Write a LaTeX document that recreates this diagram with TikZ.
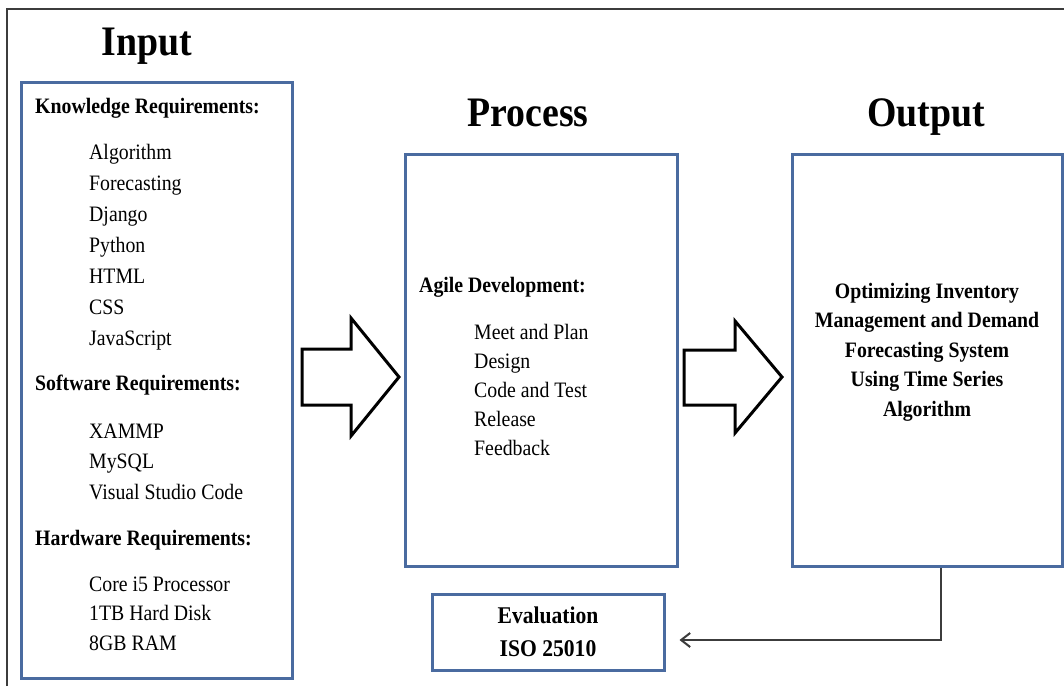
\documentclass[tikz,border=0pt]{standalone}
\usepackage{fontspec}
\setmainfont{Liberation Serif}[FakeStretch=0.9]
\usetikzlibrary{arrows.meta}
\definecolor{boxblue}{RGB}{74,107,160}
\definecolor{framegray}{RGB}{60,60,60}

\begin{document}
\begin{tikzpicture}[x=1pt, y=-1pt,
        % Define styles for boxes, texts and arrows
        box/.style={draw=boxblue, line width=3pt, inner sep=0pt},
        item/.style={anchor=base west, inner sep=0pt, font=\fontsize{22}{26}\selectfont},
        heading/.style={item, font=\fontsize{22}{26}\selectfont\bfseries},
        title/.style={anchor=base, inner sep=0pt, font=\fontsize{42}{46}\selectfont\bfseries},
        blockarrow/.style={draw=black, fill=white, line width=3pt, line join=miter},
        feedback/.style={draw=framegray, line width=2pt, -{Straight Barb[length=9pt, width=14pt, line width=2pt]}}]

        \useasboundingbox (0,0) rectangle (1064,686);

        % 1. Outer frame (only top and left edges are visible)
        \draw[framegray, line width=1.5pt] (7,686) -- (7,9) -- (1064,9);

        % 2. The four boxes
        \node[box, minimum width=271pt, minimum height=596pt] (input) at (156.5,380) {};
        \node[box, minimum width=272pt, minimum height=412pt] (process) at (541,360) {};
        \node[box, minimum width=270pt, minimum height=412pt] (output) at (927,360) {};
        \node[box, minimum width=232pt, minimum height=76pt, align=center,
              font=\fontsize{24}{33}\selectfont\bfseries] (eval) at (548,632) {Evaluation\\ISO 25010};

        % 3. Titles
        \node[title] (inputtitle) at (147,55) {Input};
        \node[title] (processtitle) at (528,126) {Process};
        \node[title] (outputtitle) at (926,126) {Output};

        % 4. Input box contents
        \node[heading] (knowhead) at (35,113) {Knowledge Requirements:};
        \foreach \t [count=\i from 0] in {Algorithm, Forecasting, Django, Python, HTML, CSS, JavaScript}
            \node[item] (know\i) at (89,159+31*\i) {\t};
        \node[heading] (softhead) at (35,390) {Software Requirements:};
        \foreach \t [count=\i from 0] in {XAMMP, MySQL, Visual Studio Code}
            \node[item] (soft\i) at (89,438+30.5*\i) {\t};
        \node[heading] (hardhead) at (35,545) {Hardware Requirements:};
        \foreach \t [count=\i from 0] in {Core i5 Processor, 1TB Hard Disk, 8GB RAM}
            \node[item] (hard\i) at (89,591+29.5*\i) {\t};

        % 5. Process box contents
        \node[heading] (agilehead) at (419,292) {Agile Development:};
        \foreach \t [count=\i from 0] in {Meet and Plan, Design, Code and Test, Release, Feedback}
            \node[item] (agile\i) at (474,339+29*\i) {\t};

        % 6. Output box contents
        \node[align=center, inner sep=0pt, font=\fontsize{22}{29.5}\selectfont\bfseries] (outtext) at (927,352)
            {Optimizing Inventory\\Management and Demand\\Forecasting System\\Using Time Series\\Algorithm};

        % 7. Block arrows between the boxes
        \draw[blockarrow] (302,349) -- (351,349) -- (351,318) -- (399,377) -- (351,436) -- (351,405) -- (302,405) -- cycle;
        \draw[blockarrow] (684,350) -- (735,350) -- (735,321) -- (782,377) -- (735,433) -- (735,405) -- (684,405) -- cycle;

        % 8. Feedback from output to evaluation
        \draw[feedback] ([xshift=14pt]output.south) |- ([xshift=14pt, yshift=-8pt]eval.east);

    \end{tikzpicture}
\end{document}
